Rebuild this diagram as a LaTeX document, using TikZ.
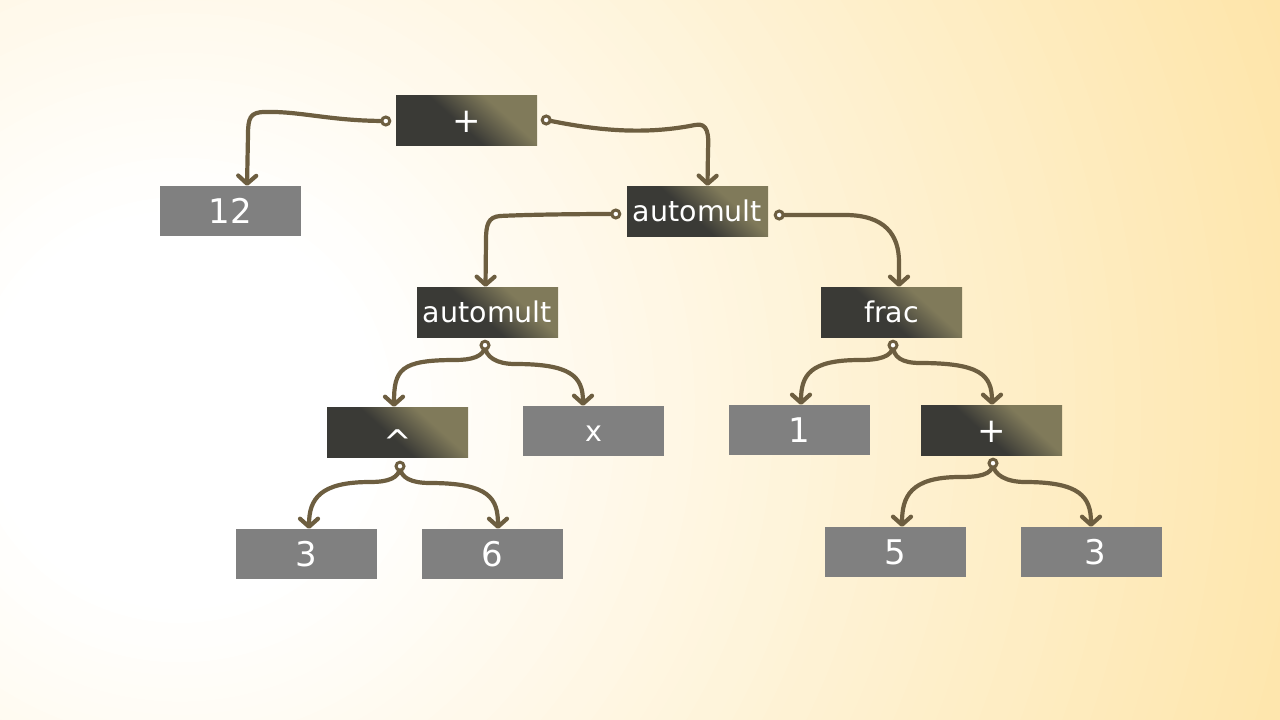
\documentclass[tikz,border=0pt]{standalone}
\usepackage{fontspec}
\setmainfont{DejaVu Sans}
\usetikzlibrary{arrows.meta,calc}
\definecolor{bgouter}{HTML}{FEE5AA}
\definecolor{conncol}{HTML}{6D5E40}
\definecolor{leafgray}{HTML}{808080}
\definecolor{opdark}{HTML}{3A3A36}
\definecolor{opolive}{HTML}{807A5A}
\pgfdeclarehorizontalshading{opshade}{100bp}{color(0bp)=(opdark); color(46bp)=(opdark); color(66bp)=(opolive); color(100bp)=(opolive)}
\begin{document}
\begin{tikzpicture}[x=1pt,y=-1pt,
  box/.style={rectangle, inner sep=0pt, minimum width=141pt, minimum height=50pt, text=white},
  leaf/.style={box, fill=leafgray},
  op/.style={box, shading=opshade, shading angle=48},
  numtxt/.style={font=\fontsize{34}{40}\selectfont, text height=24.8pt, text depth=0pt},
  wordtxt/.style={font=\fontsize{28.5}{34}\selectfont, text height=20.8pt, text depth=0pt},
  conn/.style={draw=conncol, line width=4.2pt, line cap=round, line join=round, -{Straight Barb[length=8pt,width=18pt,round]}},
  knob/.style={circle, draw=conncol, fill=white, line width=3pt, minimum size=8pt, inner sep=0pt}]
\useasboundingbox (0,0) rectangle (1280,720);
\begin{scope}
\clip (0,0) rectangle (1280,720);
\fill[bgouter] (0,0) rectangle (1280,720);
\foreach \i in {0,...,80} {
  \pgfmathsetmacro\rr{1250-\i*13.125}
  \pgfmathtruncatemacro\pp{max(0,min(100,round((\rr-200)/974*100)))}
  \fill[bgouter!\pp!white] (180,410) circle (\rr);
}
\end{scope}
% nodes
\node[op, numtxt] (p1) at (466.5,120) {+};
\node[leaf, numtxt] (n12) at (230.5,211) {12};
\node[op, wordtxt] (a1) at (697.5,211) {automult};
\node[op, wordtxt] (a2) at (487.5,312) {automult};
\node[op, wordtxt] (frac) at (891.5,312) {frac};
\node[op, numtxt] (hat) at (397.5,432) {\raisebox{-10pt}{\textasciicircum}};
\node[leaf, wordtxt] (xn) at (593.5,431) {x};
\node[leaf, numtxt] (n1) at (799.5,430) {1};
\node[op, numtxt] (p2) at (991.5,430) {+};
\node[leaf, numtxt] (n3) at (306.5,554) {3};
\node[leaf, numtxt] (n6) at (492.5,554) {6};
\node[leaf, numtxt] (n5) at (895.5,552) {5};
\node[leaf, numtxt] (n3b) at (1091.5,552) {\hspace{7pt}3};
% knob positions
\coordinate (k1) at ($(p1.west)+(-10,1)$);
\coordinate (k2) at ($(p1.east)+(9,0)$);
\coordinate (k3) at ($(a1.west)+(-11,3)$);
\coordinate (k4) at ($(a1.east)+(11,4)$);
\coordinate (k5) at ($(a2.south)+(-2.5,8)$);
\coordinate (k6) at ($(hat.south)+(2.5,9)$);
\coordinate (k7) at ($(frac.south)+(1.5,8)$);
\coordinate (k8) at ($(p2.south)+(1.5,8)$);
% connectors
\draw[conn] (k1) .. controls (330,121) and (300,111) .. (265,112) .. controls (250,112) and (248,118) .. (248,135) -- ($(n12.north)+(16.5,0)$);
\draw[conn] (k2) .. controls (590,129) and (640,136) .. (695,125) .. controls (708,122) and (709,135) .. (708,150) -- ($(a1.north)+(10,0)$);
\draw[conn] (k3) .. controls (560,214) and (520,215) .. (500,216) .. controls (488,217) and (486,225) .. (486,240) -- ($(a2.north)+(-2,0)$);
\draw[conn] (k4) -- (845,215) .. controls (885,215) and (899,235) .. (899,262) -- ($(frac.north)+(7.5,0)$);
\draw[conn] (k5) .. controls +(0,12) and +(15,0) .. (455,360) .. controls +(-55,0) and +(0,-37) .. ($(hat.north)+(-3.5,0)$);
\draw[conn] (k5) .. controls +(0,12) and +(-18,0) .. (515,364) .. controls +(55,0) and +(0,-30) .. ($(xn.north)+(-10.5,0)$);
\draw[conn] (k6) .. controls +(0,12) and +(18,0) .. (370,482) .. controls +(-50,0) and +(0,-30) .. ($(n3.north)+(2.5,0)$);
\draw[conn] (k6) .. controls +(0,12) and +(-18,0) .. (430,483) .. controls +(60,0) and +(0,-30) .. ($(n6.north)+(5.5,0)$);
\draw[conn] (k7) .. controls +(0,12) and +(18,0) .. (860,360) .. controls +(-50,0) and +(0,-30) .. ($(n1.north)+(1.5,0)$);
\draw[conn] (k7) .. controls +(0,12) and +(-18,0) .. (920,363) .. controls +(60,0) and +(0,-30) .. ($(p2.north)+(0.5,0)$);
\draw[conn] (k8) .. controls +(0,12) and +(18,0) .. (960,477) .. controls +(-50,0) and +(0,-30) .. ($(n5.north)+(6.5,0)$);
\draw[conn] (k8) .. controls +(0,12) and +(-18,0) .. (1025,482) .. controls +(55,0) and +(0,-30) .. ($(n3b.north)+(-0.5,0)$);
% knobs on top
\foreach \k in {k1,k2,k3,k4,k5,k6,k7,k8} \node[knob] at (\k) {};
\end{tikzpicture}
\end{document}
